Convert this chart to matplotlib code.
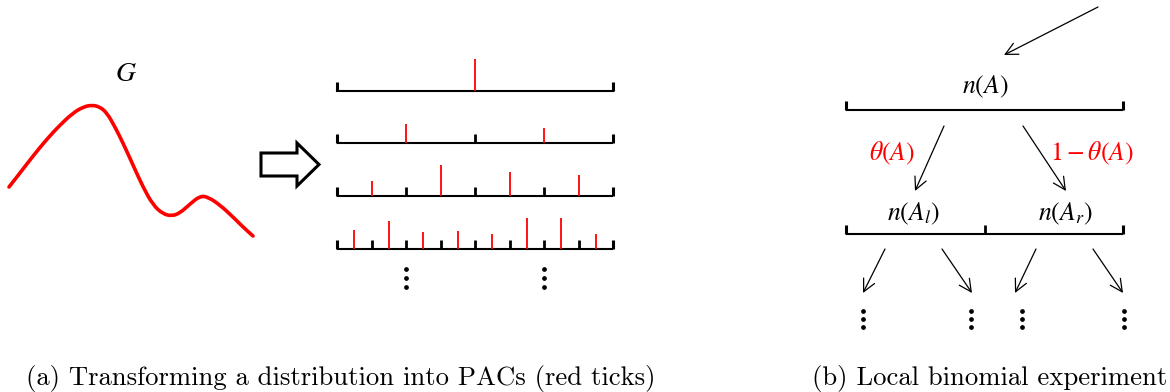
import matplotlib.pyplot as plt
import matplotlib.patches as mpatches
from matplotlib.path import Path

# --- left panel: the distribution G (pixel coords)
curve_x = [9, 20, 33, 47, 60, 73, 83, 92, 100, 107, 115, 123, 133, 143, 153,
           163, 172, 180, 190, 200, 208, 220, 233, 243, 253]
curve_y = [187, 173, 156, 139, 125, 113, 107, 105, 107, 113, 127, 143, 165, 187, 205,
           214, 216, 213, 204, 196, 197, 205, 217, 227, 236]

# --- PAC rows: red tick heights per row (one per interval, at interval midpoint)
pac_left, pac_right = 337, 613
pac_rows_y = [91, 143, 196, 249]
pac_heights = [
    [32],
    [19, 15],
    [15, 31, 24, 21],
    [19, 28, 17, 18, 15, 31, 31, 15],
]

# --- right panel
bracket_left, bracket_right = 846, 1123
top_y, low_y = 110, 234
label_top = "$n(A)$"
label_children = ["$n(A_l)$", "$n(A_r)$"]
label_probs = [r"$\theta(A)$", r"$1-\theta(A)$"]
arrows_b = [((1098, 7), (1004, 55)),
            ((944, 126), (915, 191)), ((1023, 126), (1066, 191)),
            ((885, 249), (863, 293)), ((942, 249), (972, 293)),
            ((1036, 249), (1015, 293)), ((1093, 249), (1123, 293))]
dots_b_x = [863, 971, 1022, 1124]

captions = ["(a) Transforming a distribution into PACs (red ticks)",
            "(b) Local binomial experiment"]

fig = plt.figure(figsize=(11.7, 3.92), dpi=100)
ax = fig.add_axes([0, 0, 1, 1])
ax.set_xlim(0, 1170)
ax.set_ylim(392, 0)
ax.axis("off")

tick_h = 9
lw_base = 1.5


def bracket(x0, x1, y, n):
    ax.plot([x0, x1], [y, y], color="black", lw=lw_base, solid_capstyle="butt")
    w = (x1 - x0) / n
    for i in range(n + 1):
        lw = 2.2 if i in (0, n) else 2.0
        ax.plot([x0 + i * w] * 2, [y, y - tick_h], color="black", lw=lw,
                solid_capstyle="butt")


# G curve, smoothed with quadratic bezier segments through the read points
pts = list(zip(curve_x, curve_y))
verts = [pts[0]]
codes = [Path.MOVETO]
for i in range(1, len(pts) - 1):
    mid = ((pts[i][0] + pts[i + 1][0]) / 2, (pts[i][1] + pts[i + 1][1]) / 2)
    verts += [pts[i], mid]
    codes += [Path.CURVE3, Path.CURVE3]
verts.append(pts[-1])
codes.append(Path.LINETO)
ax.add_patch(mpatches.PathPatch(Path(verts, codes), facecolor="none",
                                edgecolor="red", lw=2.6, capstyle="round"))
ax.text(126, 73, "$G$", fontsize=20, ha="center", va="center",
        math_fontfamily="stix")

# hollow arrow
ax.add_patch(mpatches.FancyArrow(261, 164.5, 58, 0, width=23, head_width=43,
                                 head_length=22, length_includes_head=True,
                                 facecolor="white", edgecolor="black", lw=2.2))

# PAC rows
for y, heights in zip(pac_rows_y, pac_heights):
    n = len(heights)
    if n == 1:
        ax.plot([pac_left, pac_right], [y, y], color="black", lw=lw_base)
        for xx in (pac_left, pac_right):
            ax.plot([xx, xx], [y, y - tick_h], color="black", lw=2.2,
                    solid_capstyle="butt")
    else:
        bracket(pac_left, pac_right, y, n)
    w = (pac_right - pac_left) / n
    for i, h in enumerate(heights):
        xm = pac_left + (i + 0.5) * w
        ax.plot([xm, xm], [y, y - h], color="red", lw=1.3, solid_capstyle="butt")

for xd in (pac_left + 0.25 * (pac_right - pac_left), pac_left + 0.75 * (pac_right - pac_left)):
    ax.plot([xd] * 3, [269, 278, 287], "o", color="black", ms=2.4, ls="none")

# right panel
bracket(bracket_left, bracket_right, top_y, 1)
bracket(bracket_left, bracket_right, low_y, 2)
ax.text(985, 87, label_top, fontsize=18.5, ha="center", va="center",
        math_fontfamily="stix")
for xc, lab in zip([913, 1065], label_children):
    ax.text(xc, 214, lab, fontsize=18.5, ha="center", va="center",
            math_fontfamily="stix")
for xc, lab in zip([892, 1092], label_probs):
    ax.text(xc, 153, lab, fontsize=18.5, ha="center", va="center", color="red",
            math_fontfamily="stix")

for start, end in arrows_b:
    ax.annotate("", xy=end, xytext=start,
                arrowprops=dict(arrowstyle="->", lw=0.9, color="black",
                                shrinkA=0, shrinkB=0, mutation_scale=22))

for xd in dots_b_x:
    ax.plot([xd] * 3, [311, 319, 327], "o", color="black", ms=2.4, ls="none")

# captions
ax.text(341, 378, captions[0], fontsize=19.2, ha="center", va="center",
        family="cmr10")
ax.text(990, 378, captions[1], fontsize=19.2, ha="center", va="center",
        family="cmr10")

fig.savefig("out.png", dpi=100)
